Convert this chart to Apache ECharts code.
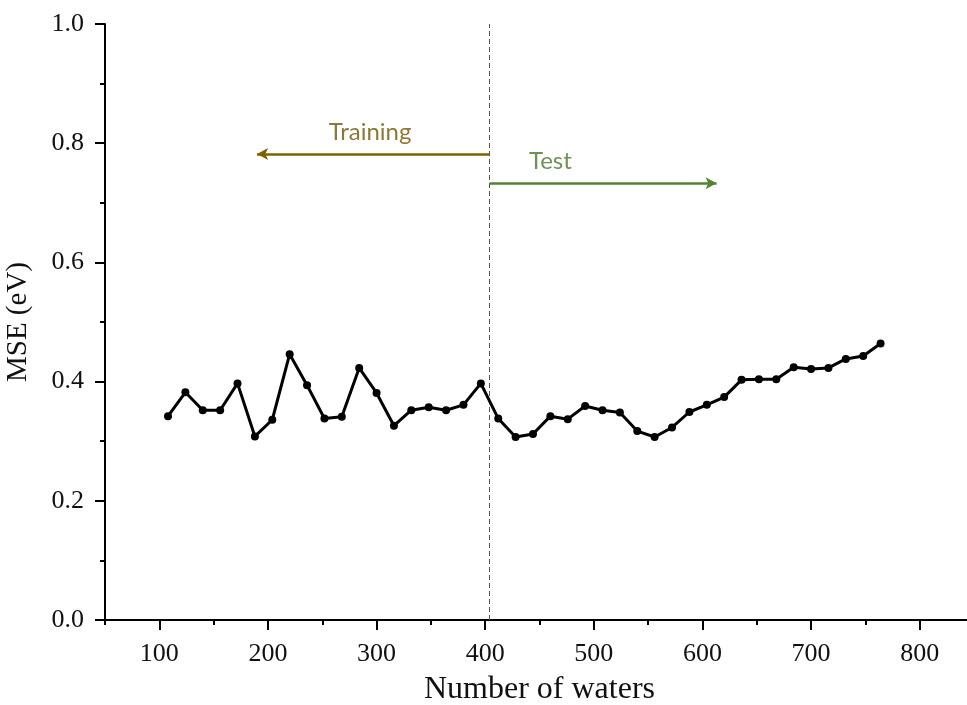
<!DOCTYPE html>
<html>
<head>
<meta charset="utf-8">
<script src="https://cdn.jsdelivr.net/npm/echarts@6/dist/echarts.min.js"></script>
<style>
  html, body { margin: 0; padding: 0; background: #fff; }
  #chart { width: 967px; height: 705px; }
</style>
</head>
<body>
<div id="chart"></div>
<script>
// 水分子数目
const waters = [108, 124, 140, 156, 172, 188, 204, 220, 236, 252, 268, 284, 300, 316,
    332, 348, 364, 380, 396, 412, 428, 444, 460, 476, 492, 508, 524, 540,
    556, 572, 588, 604, 620, 636, 652, 668, 684, 700, 716, 732, 748, 764];
// MSE (eV)
const mse = [0.342, 0.382, 0.352, 0.352, 0.397, 0.308, 0.336, 0.446, 0.394, 0.338, 0.341, 0.423, 0.381, 0.326,
    0.352, 0.357, 0.352, 0.361, 0.397, 0.338, 0.307, 0.312, 0.342, 0.337, 0.359, 0.352, 0.348, 0.317,
    0.307, 0.323, 0.349, 0.361, 0.374, 0.403, 0.404, 0.404, 0.424, 0.421, 0.423, 0.438, 0.443, 0.464];

// 刻度
const xMajorTicks = [100, 200, 300, 400, 500, 600, 700, 800];
const xMinorTicks = [50, 150, 250, 350, 450, 550, 650, 750, 850];

// 训练/测试分界
const splitAt = 404;
const trainingArrow = [[404, 0.782], [190, 0.782]];
const testArrow = [[404, 0.733], [613, 0.733]];
const trainingLabel = [294, 0.819];
const testLabel = [460, 0.770];

const serif = 'Liberation Serif';

document.addEventListener('DOMContentLoaded', function() {
    const chart = echarts.init(document.getElementById('chart'));

    const option = {
        backgroundColor: '#fff',
        animation: false,
        grid: {
            left: 105,
            right: -7,
            top: 24,
            bottom: 85,
            containLabel: false,
            outerBoundsMode: 'none'
        },
        xAxis: [
            {
                type: 'value',
                position: 'bottom',
                min: 50,
                max: 850,
                name: 'Number of waters',
                nameLocation: 'middle',
                nameGap: 54,
                nameTextStyle: { fontFamily: serif, fontSize: 32, color: '#111' },
                axisLine: { show: true, lineStyle: { color: '#000', width: 2 } },
                axisTick: { show: true, customValues: xMajorTicks, length: 10, lineStyle: { color: '#000', width: 2 } },
                axisLabel: { customValues: xMajorTicks, fontFamily: serif, fontSize: 26, color: '#111', margin: 21 },
                splitLine: { show: false }
            },
            {
                type: 'value',
                position: 'bottom',
                min: 50,
                max: 850,
                axisLine: { show: false },
                axisTick: { show: true, customValues: xMinorTicks, length: 5, lineStyle: { color: '#000', width: 2 } },
                axisLabel: { show: false },
                splitLine: { show: false }
            }
        ],
        yAxis: {
            type: 'value',
            min: 0,
            max: 1,
            interval: 0.2,
            name: 'MSE (eV)',
            nameLocation: 'middle',
            nameGap: 72,
            nameTextStyle: { fontFamily: serif, fontSize: 29, color: '#111' },
            axisLine: { show: true, lineStyle: { color: '#000', width: 2 } },
            axisTick: { show: true, length: 10, lineStyle: { color: '#000', width: 2 } },
            minorTick: { show: true, splitNumber: 2, length: 5, lineStyle: { color: '#000', width: 2 } },
            axisLabel: {
                fontFamily: serif,
                fontSize: 26,
                color: '#111',
                margin: 21,
                formatter: function(v) { return v.toFixed(1); }
            },
            splitLine: { show: false }
        },
        series: [
            {
                name: 'MSE',
                type: 'line',
                data: waters.map((x, i) => [x, mse[i]]),
                symbol: 'circle',
                symbolSize: 8,
                lineStyle: { color: '#000', width: 3 },
                itemStyle: { color: '#000' },
                z: 5,
                markLine: {
                    silent: true,
                    symbol: 'none',
                    label: { show: false },
                    lineStyle: { color: '#555', type: [5, 3], width: 1 },
                    data: [{ xAxis: splitAt }]
                }
            },
            {
                name: 'Training',
                type: 'scatter',
                data: [trainingLabel],
                symbolSize: 1,
                itemStyle: { color: 'rgba(0,0,0,0)' },
                label: {
                    show: true,
                    position: 'inside',
                    formatter: 'Training',
                    fontFamily: 'Lato',
                    fontSize: 24,
                    color: '#735600'
                },
                markLine: {
                    silent: true,
                    symbol: ['none', 'arrow'],
                    symbolSize: [9, 11],
                    label: { show: false },
                    lineStyle: { color: '#7f6000', type: 'solid', width: 2.5 },
                    data: [[{ coord: trainingArrow[0] }, { coord: trainingArrow[1] }]]
                }
            },
            {
                name: 'Test',
                type: 'scatter',
                data: [testLabel],
                symbolSize: 1,
                itemStyle: { color: 'rgba(0,0,0,0)' },
                label: {
                    show: true,
                    position: 'inside',
                    formatter: 'Test',
                    fontFamily: 'Lato',
                    fontSize: 24,
                    color: '#48772c'
                },
                markLine: {
                    silent: true,
                    symbol: ['none', 'arrow'],
                    symbolSize: [9, 11],
                    label: { show: false },
                    lineStyle: { color: '#548235', type: 'solid', width: 2.5 },
                    data: [[{ coord: testArrow[0] }, { coord: testArrow[1] }]]
                }
            }
        ]
    };

    chart.setOption(option);
});
</script>
</body>
</html>
